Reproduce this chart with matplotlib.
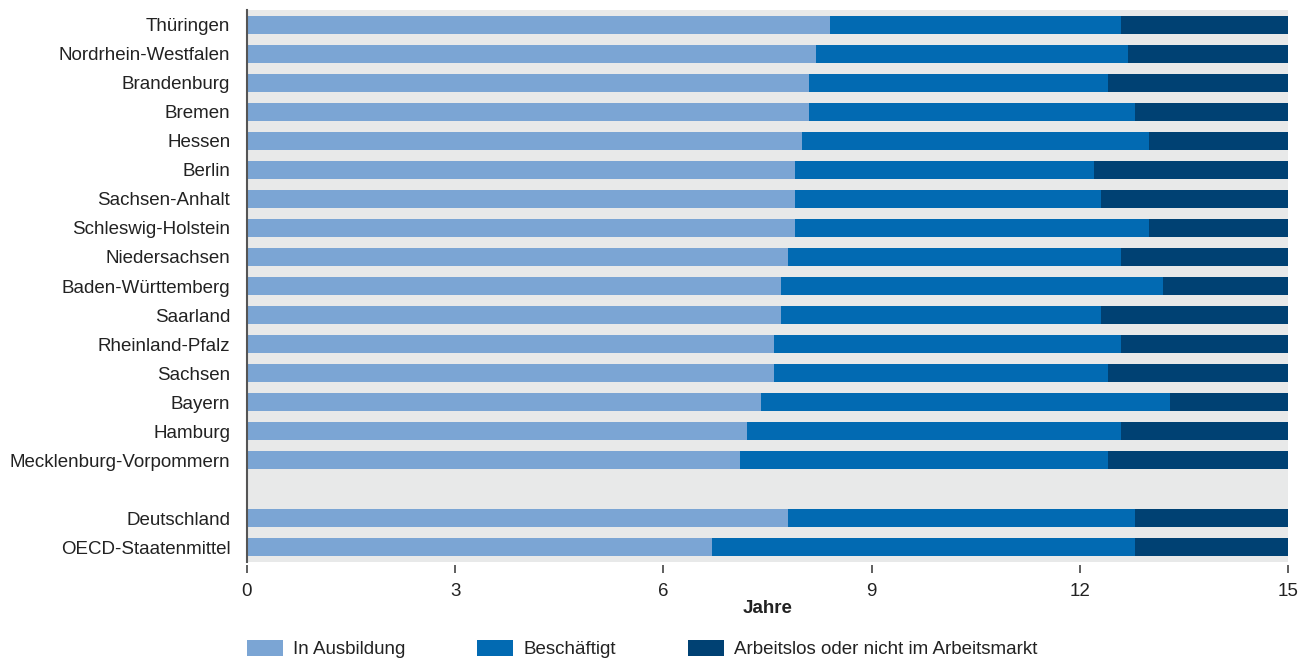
import matplotlib
matplotlib.use("Agg")
import matplotlib.pyplot as plt
import numpy as np

plt.rcParams['font.family'] = ['Liberation Sans', 'DejaVu Sans']

categories = ["Thüringen", "Nordrhein-Westfalen", "Brandenburg", "Bremen", "Hessen",
              "Berlin", "Sachsen-Anhalt", "Schleswig-Holstein", "Niedersachsen",
              "Baden-Württemberg", "Saarland", "Rheinland-Pfalz", "Sachsen", "Bayern",
              "Hamburg", "Mecklenburg-Vorpommern", "", "Deutschland", "OECD-Staatenmittel"]
in_ausbildung = [8.4, 8.2, 8.1, 8.1, 8.0, 7.9, 7.9, 7.9, 7.8, 7.7, 7.7, 7.6, 7.6, 7.4,
                 7.2, 7.1, None, 7.8, 6.7]
beschaeftigt = [4.2, 4.5, 4.3, 4.7, 5.0, 4.3, 4.4, 5.1, 4.8, 5.5, 4.6, 5.0, 4.8, 5.9,
                5.4, 5.3, None, 5.0, 6.1]
arbeitslos = [2.4, 2.3, 2.6, 2.2, 2.0, 2.8, 2.7, 2.0, 2.4, 1.8, 2.7, 2.4, 2.6, 1.7,
              2.4, 2.6, None, 2.2, 2.2]
series_labels = ["In Ausbildung", "Beschäftigt", "Arbeitslos oder nicht im Arbeitsmarkt"]
xticks = [0, 3, 6, 9, 12, 15]
xlabel = "Jahre"

colors = ["#7ba5d4", "#026ab2", "#004173"]
fs = 13.5
tc = "#222222"

fig = plt.figure(figsize=(13.13, 6.58), dpi=100)
ax = fig.add_axes([247/1313, 1-562/658, (1288-247)/1313, (562-10)/658])
ax.set_facecolor("#e8e9e9")

n = len(categories)
y = np.arange(n)
idx = [i for i in range(n) if in_ausbildung[i] is not None]
a = np.array([in_ausbildung[i] for i in idx])
b = np.array([beschaeftigt[i] for i in idx])
c = np.array([arbeitslos[i] for i in idx])
yy = y[idx]
h = 0.62
ax.barh(yy, a, height=h, color=colors[0], label=series_labels[0])
ax.barh(yy, b, left=a, height=h, color=colors[1], label=series_labels[1])
ax.barh(yy, c, left=a+b, height=h, color=colors[2], label=series_labels[2])

ax.set_ylim(n - 0.5, -0.5)
ax.set_xlim(0, 15)
ax.set_yticks(y)
ax.set_yticklabels(categories)
ax.tick_params(axis='y', length=0, pad=12, labelsize=fs, labelcolor=tc)
ax.set_xticks(xticks)
ax.set_xticklabels([str(t) for t in xticks])
ax.tick_params(axis='x', length=6, width=1.2, color="#444444", pad=7, direction='out',
               labelsize=fs, labelcolor=tc)
for s in ["top", "right"]:
    ax.spines[s].set_visible(False)
ax.spines["bottom"].set_position(("outward", 2))
ax.spines["bottom"].set_visible(False)
ax.spines["left"].set_color("#555555")
ax.spines["left"].set_linewidth(1.5)
ax.set_xlabel(xlabel, fontsize=fs, fontweight="bold", labelpad=0, color=tc)

handles, labels = ax.get_legend_handles_labels()
fig.legend(handles, labels, loc="center left", bbox_to_anchor=(247/1313, 1-649/658),
           ncol=3, frameon=False, fontsize=fs, handlelength=1.92, handleheight=1.0,
           handletextpad=0.53, columnspacing=3.84, borderpad=0, borderaxespad=0,
           labelcolor=tc)

fig.savefig("out.png", dpi=100)
